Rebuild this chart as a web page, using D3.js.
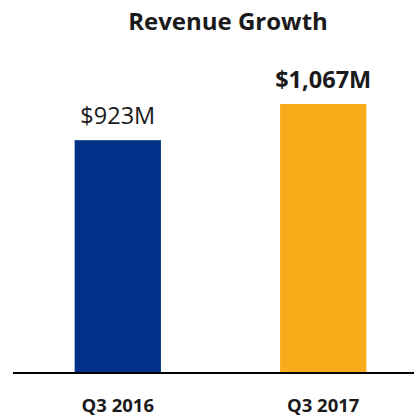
<!DOCTYPE html>
<html>
<head>
<meta charset="utf-8">
<script src="https://cdn.jsdelivr.net/npm/d3@7"></script>
<style>
  body { margin: 0; background: #fff; }
  svg text { font-family: "Open Sans", sans-serif; fill: #1a1a1a; }
</style>
</head>
<body>
<div id="chart"></div>
<script>
var categories = ["Q3 2016", "Q3 2017"];
var revenue = [923, 1067];
var valueLabels = ["$923M", "$1,067M"];
var barColors = ["#003087", "#F9AB1A"];

var width = 414, height = 415;

var svg = d3.select("#chart").append("svg")
    .attr("width", width)
    .attr("height", height);

var x = d3.scaleBand()
    .domain(categories)
    .range([13, 428])
    .paddingInner(0.58)
    .paddingOuter(0.3);

var y = d3.scaleLinear()
    .domain([0, 1067])
    .range([372, 104]);

// title
svg.append("text")
    .attr("x", 228)
    .attr("y", 30)
    .attr("text-anchor", "middle")
    .style("font-size", "24px")
    .style("font-weight", "bold")
    .text("Revenue Growth");

// bars
svg.selectAll("rect.bar")
    .data(revenue)
    .enter().append("rect")
    .attr("class", "bar")
    .attr("x", function (d, i) { return x(categories[i]); })
    .attr("y", function (d) { return y(d); })
    .attr("width", x.bandwidth())
    .attr("height", function (d) { return y(0) - y(d); })
    .attr("fill", function (d, i) { return barColors[i]; });

// value labels
svg.selectAll("text.value")
    .data(revenue)
    .enter().append("text")
    .attr("class", "value")
    .attr("x", function (d, i) { return x(categories[i]) + x.bandwidth() / 2; })
    .attr("y", function (d) { return y(d) - 16; })
    .attr("text-anchor", "middle")
    .style("font-size", "23.5px")
    .style("font-weight", function (d, i) { return i === 1 ? "bold" : "normal"; })
    .text(function (d, i) { return valueLabels[i]; });

// baseline
svg.append("line")
    .attr("x1", 13)
    .attr("x2", width)
    .attr("y1", y(0) + 1)
    .attr("y2", y(0) + 1)
    .attr("stroke", "#000")
    .attr("stroke-width", 2);

// category labels
svg.selectAll("text.cat")
    .data(categories)
    .enter().append("text")
    .attr("class", "cat")
    .attr("x", function (d) { return x(d) + x.bandwidth() / 2; })
    .attr("y", 412)
    .attr("text-anchor", "middle")
    .style("font-size", "18.5px")
    .style("font-weight", "bold")
    .text(function (d) { return d; });
</script>
</body>
</html>
